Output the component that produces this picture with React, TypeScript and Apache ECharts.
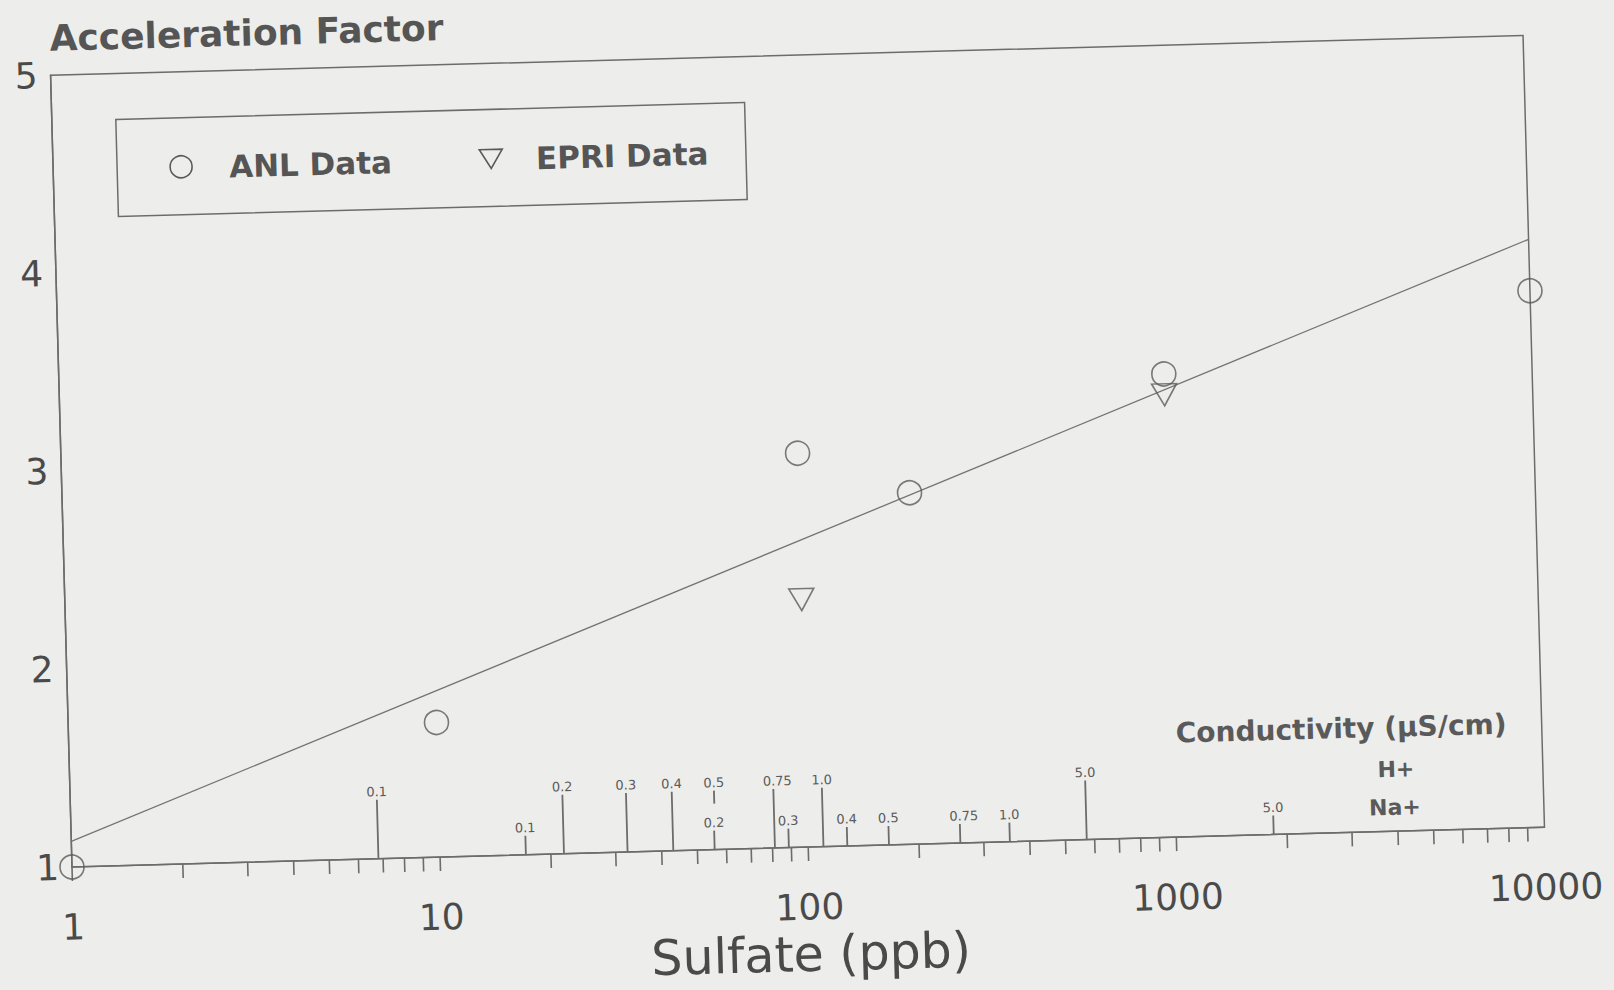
import React, { useEffect, useRef } from "react";
import * as echarts from "echarts";

// ---- data ----
const anlSulfate = [1, 10, 100, 200, 1000, 10000];
const anlFactor = [1.0, 1.68, 2.99, 2.775, 3.34, 3.71];
const epriSulfate = [100, 1000];
const epriFactor = [2.25, 3.235];
const fitSulfate = [1, 10000];
const fitFactor = [1.129, 3.97];

const xTickLabels = [1, 10, 100, 1000, 10000];
const yTickLabels = [1, 2, 3, 4, 5];
const minorTicks = [
  1, 2, 3, 4, 5, 6, 7, 8, 9,
  10, 20, 30, 40, 50, 60, 70, 80, 90,
  100, 200, 300, 400, 500, 600, 700, 800, 900,
  1000, 2000, 3000, 4000, 5000, 6000, 7000, 8000, 9000,
];

// conductivity scale marks (sulfate ppb where each conductivity value falls)
const hPlusSulfate = [6.8, 21.7, 32.3, 43.0, 56.0, 81.2, 110, 571];
const hPlusLabels = ["0.1", "0.2", "0.3", "0.4", "0.5", "0.75", "1.0", "5.0"];
const naPlusSulfate = [17.1, 55.7, 88.6, 127.7, 165.7, 259, 353, 1839];
const naPlusLabels = ["0.1", "0.2", "0.3", "0.4", "0.5", "0.75", "1.0", "5.0"];

const FONT = "DejaVu Sans";
const INK = "#4a4a4a";
const LINE = "#6c6c6c";
const BG = "#ededeb";

export default function App() {
  const ref = useRef<HTMLDivElement>(null);

  useEffect(() => {
    if (!ref.current) return;
    const chart = echarts.init(ref.current, undefined, { renderer: "svg" });

    const condRender =
      (labels: string[], tickH: number, avoid: number[] | null) =>
      (params: any, api: any) => {
        const x = api.value(0);
        const p = api.coord([x, 1]);
        const top = p[1] - tickH;
        let bottom = p[1];
        if (avoid && avoid.some((n) => Math.abs(Math.log10(n) - Math.log10(x)) < 0.02)) {
          bottom = p[1] - 46;
        }
        const fs = 13;
        const offset = 0.636 * fs + 0.159 * fs;
        return {
          type: "group",
          children: [
            {
              type: "line",
              shape: { x1: p[0], y1: bottom, x2: p[0], y2: top },
              style: { stroke: LINE, lineWidth: 1.8 },
            },
            {
              type: "text",
              x: p[0] - offset,
              y: top - 8,
              style: {
                text: labels[params.dataIndex],
                fontSize: fs,
                fontFamily: FONT,
                fill: "#5a5a5a",
                align: "left",
                verticalAlign: "middle",
                textAlign: "left",
                textVerticalAlign: "middle",
              },
            },
          ],
        };
      };

    const textStyle = (size: number, align: string) => ({
      fontSize: size,
      fontWeight: "bold",
      fontFamily: FONT,
      fill: "#555",
      align,
      verticalAlign: "middle",
      textAlign: align,
      textVerticalAlign: "middle",
    });

    const option: any = {
      animation: false,
      backgroundColor: BG,
      grid: {
        left: 72,
        right: 69,
        top: 75,
        bottom: 173,
        show: true,
        borderColor: LINE,
        borderWidth: 1.5,
        backgroundColor: "transparent",
      },
      xAxis: {
        type: "log",
        logBase: 10,
        min: 1,
        max: 10000,
        name: "Sulfate (ppb)",
        nameLocation: "middle",
        nameGap: 81,
        nameTextStyle: { fontSize: 49, fontFamily: FONT, color: INK },
        axisLine: { show: true, lineStyle: { color: LINE, width: 1.5 } },
        axisTick: { show: false },
        splitLine: { show: false },
        minorTick: { show: false },
        axisLabel: {
          fontSize: 36,
          fontFamily: FONT,
          color: INK,
          margin: 42,
          showMinLabel: true,
          showMaxLabel: true,
          formatter: (v: number) =>
            xTickLabels.includes(Math.round(v)) ? String(Math.round(v)) : "",
        },
      },
      yAxis: {
        type: "value",
        min: 1,
        max: 5,
        interval: 1,
        name: "Acceleration Factor",
        nameLocation: "end",
        nameGap: 37,
        nameTextStyle: {
          fontSize: 36,
          fontWeight: "bold",
          fontFamily: FONT,
          color: "#555",
          align: "left",
          verticalAlign: "middle",
        },
        axisLine: { show: true, lineStyle: { color: LINE, width: 1.5 } },
        axisTick: { show: false },
        splitLine: { show: false },
        axisLabel: {
          fontSize: 36,
          fontFamily: FONT,
          color: INK,
          margin: 13,
          formatter: (v: number) =>
            yTickLabels.includes(v) ? String(v) : "",
        },
      },
      graphic: [
        {
          type: "rect",
          shape: { x: 136, y: 121, width: 629, height: 97 },
          style: { fill: "none", stroke: LINE, lineWidth: 1.5 },
        },
        {
          type: "circle",
          shape: { cx: 200, cy: 170, r: 11 },
          style: { fill: "none", stroke: "#5a5a5a", lineWidth: 1.6 },
        },
        { type: "text", x: 248, y: 171, style: { text: "ANL Data", ...textStyle(31, "left") } },
        {
          type: "polygon",
          shape: { points: [[498.5, 161], [521.5, 161], [510, 180]] },
          style: { fill: "none", stroke: "#5a5a5a", lineWidth: 1.6 },
        },
        { type: "text", x: 555, y: 171, style: { text: "EPRI Data", ...textStyle(31, "left") } },
        {
          type: "text",
          x: 1179,
          y: 763,
          style: { text: "Conductivity (µS/cm)", ...textStyle(28, "left"), fill: "#5a5a5a" },
        },
        { type: "text", x: 1398, y: 805, style: { text: "H+", ...textStyle(22, "center"), fill: "#5a5a5a" } },
        { type: "text", x: 1396, y: 843, style: { text: "Na+", ...textStyle(22, "center"), fill: "#5a5a5a" } },
      ],
      series: [
        {
          name: "Fit",
          type: "line",
          data: fitSulfate.map((s, i) => [s, fitFactor[i]]),
          showSymbol: false,
          symbol: "none",
          lineStyle: { color: "#747474", width: 1.3 },
          z: 2,
        },
        {
          name: "ANL Data",
          type: "scatter",
          data: anlSulfate.map((s, i) => [s, anlFactor[i]]),
          symbol: "circle",
          symbolSize: 24,
          clip: false,
          itemStyle: { color: "rgba(0,0,0,0)", borderColor: "#5a5a5a", borderWidth: 1.6 },
          z: 3,
        },
        {
          name: "EPRI Data",
          type: "scatter",
          data: epriSulfate.map((s, i) => [s, epriFactor[i]]),
          symbol: "triangle",
          symbolRotate: 180,
          symbolSize: [25, 22],
          clip: false,
          itemStyle: { color: "rgba(0,0,0,0)", borderColor: "#5a5a5a", borderWidth: 1.6 },
          z: 3,
        },
        {
          name: "ticks",
          type: "custom",
          clip: false,
          silent: true,
          data: minorTicks.map((v) => [v, 1]),
          renderItem: (params: any, api: any) => {
            const p = api.coord([api.value(0), 1]);
            return {
              type: "line",
              shape: { x1: p[0], y1: p[1], x2: p[0], y2: p[1] + 14 },
              style: { stroke: LINE, lineWidth: 1.6 },
            };
          },
          z: 2,
        },
        {
          name: "H+",
          type: "custom",
          clip: false,
          silent: true,
          data: hPlusSulfate.map((v) => [v, 1]),
          renderItem: condRender(hPlusLabels, 59, naPlusSulfate),
          z: 2,
        },
        {
          name: "Na+",
          type: "custom",
          clip: false,
          silent: true,
          data: naPlusSulfate.map((v) => [v, 1]),
          renderItem: condRender(naPlusLabels, 19, null),
          z: 2,
        },
      ],
    };

    chart.setOption(option);
    return () => chart.dispose();
  }, []);

  return (
    <div
      style={{
        position: "absolute",
        left: 0,
        top: 0,
        width: 1614,
        height: 990,
        overflow: "hidden",
        background: BG,
      }}
    >
      <div
        ref={ref}
        style={{
          position: "absolute",
          left: 0,
          top: 0,
          width: 1614,
          height: 1040,
          transform: "rotate(-1.55deg)",
          transformOrigin: "72px 867px",
        }}
      />
    </div>
  );
}
